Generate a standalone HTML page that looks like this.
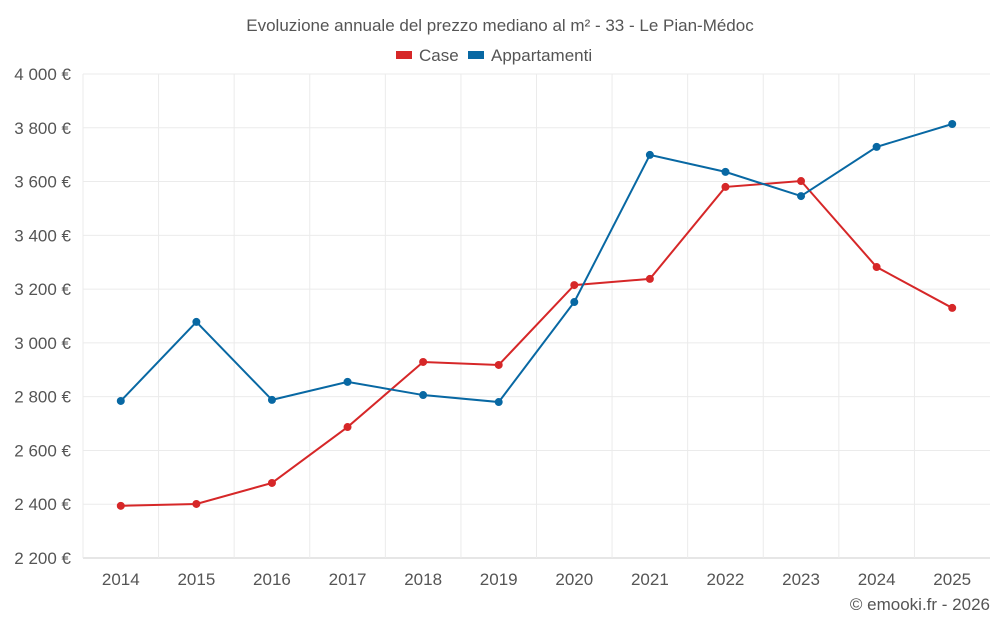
<!DOCTYPE html>
<html><head><meta charset="utf-8">
<style>
body{margin:0;background:#fff;font-family:"Liberation Sans",sans-serif;}
svg text{font-family:"Liberation Sans",sans-serif;}
</style></head>
<body>
<svg id="chart" width="1000" height="625" xmlns="http://www.w3.org/2000/svg">
<text x="500" y="31" text-anchor="middle" font-size="17" fill="#555">Evoluzione annuale del prezzo mediano al m² - 33 - Le Pian-Médoc</text>
<g>
<g><rect x="396" y="51" width="16" height="8" fill="#d62728"/><text x="419" y="61" font-size="17" fill="#555">Case</text></g>
<g><rect x="468" y="51" width="16" height="8" fill="#0868a3"/><text x="491" y="61" font-size="17" fill="#555">Appartamenti</text></g>
</g>
<g id="grid"></g><g id="axes"></g><g id="series"></g>
<text x="990" y="610" text-anchor="end" font-size="17" fill="#555">© emooki.fr - 2026</text>
</svg>
<script>
const years=[2014,2015,2016,2017,2018,2019,2020,2021,2022,2023,2024,2025];
const caseValues=[2394,2401,2479,2687,2929,2918,3215,3238,3580,3602,3282,3130];
const apptValues=[2784,3078,2788,2855,2806,2780,3152,3699,3636,3546,3729,3814];
const yTicks=[2200,2400,2600,2800,3000,3200,3400,3600,3800,4000];
const yTickLabels=["2 200 €","2 400 €","2 600 €","2 800 €","3 000 €","3 200 €","3 400 €","3 600 €","3 800 €","4 000 €"];
const NS="http://www.w3.org/2000/svg";
const L=83,R=990,T=74,B=558,yMin=2200,yMax=4000;
const x=i=>L+(R-L)/years.length*(i+0.5);
const y=v=>B-(v-yMin)/(yMax-yMin)*(B-T);
function mk(tag,attrs,parent,text){const e=document.createElementNS(NS,tag);for(const k in attrs)e.setAttribute(k,attrs[k]);if(text!==undefined)e.textContent=text;parent.appendChild(e);return e;}
const grid=document.getElementById('grid'),axes=document.getElementById('axes'),series=document.getElementById('series');
yTicks.forEach((t,i)=>{
 const g=mk('line',{x1:L,x2:R,y1:y(t),y2:y(t),stroke:i===0?'#ccc':'#ebebeb','stroke-width':1},grid);
 
 
 const tx=mk('text',{x:L-12,y:y(t)+6,'text-anchor':'end','font-size':17,fill:'#555'},axes,yTickLabels[i]);
 
 
});
years.forEach((yr,i)=>{
 const xb=L+(R-L)/years.length*i;
 const g=mk('line',{x1:xb,x2:xb,y1:T,y2:B,stroke:'#ebebeb'},grid);
 
 
 const tx=mk('text',{x:x(i),y:585,'text-anchor':'middle','font-size':17,fill:'#555'},axes,yr);
 
 
});
function drawSeries(vals,color,name){
 const p=mk('polyline',{points:vals.map((v,i)=>x(i)+','+y(v)).join(' '),fill:'none',stroke:color,'stroke-width':2},series);
 
 
 vals.forEach((v,i)=>{
  const c=mk('circle',{cx:x(i),cy:y(v),r:4,fill:color},series);
  
  
 });
}
drawSeries(caseValues,'#d62728','case');
drawSeries(apptValues,'#0868a3','appartamenti');
</script>
</body></html>
